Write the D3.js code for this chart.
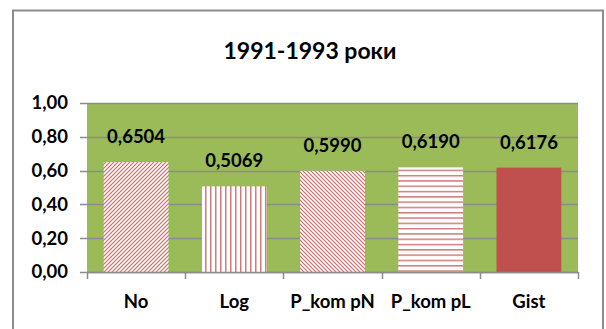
<!DOCTYPE html>
<html>
<head>
<meta charset="utf-8">
<script src="https://cdn.jsdelivr.net/npm/d3@7"></script>
<style>
  body { margin: 0; background: #fff; }
  svg text { font-family: Lato, "Open Sans", sans-serif; font-weight: bold; fill: #000; }
</style>
</head>
<body>
<svg width="606" height="329"></svg>
<script>
// data
var categories = ["No", "Log", "P_kom pN", "P_kom pL", "Gist"];
var values = [0.6504, 0.5069, 0.5990, 0.6190, 0.6176];
var fills = ["diagUp", "vert", "diagDown", "horiz", "solid"];
var yTicks = [0, 0.2, 0.4, 0.6, 0.8, 1.0];
var title = "1991-1993 роки";

var svg = d3.select("svg"),
  width = +svg.attr("width"),
  height = +svg.attr("height");

var red = "#C0504D";
var green = "#9BBB59";
var grey = "#8C8C8C";

var uk = d3.formatLocale({decimal: ",", thousands: " ", grouping: [3], currency: ["", ""]});
var fmt2 = uk.format(".2f"), fmt4 = uk.format(".4f");

// patterns
var defs = svg.append("defs");
function pat(id, w, h, draw) {
  var p = defs.append("pattern").attr("id", id)
    .attr("patternUnits", "userSpaceOnUse")
    .attr("width", w).attr("height", h);
  p.append("rect").attr("width", w).attr("height", h).attr("fill", "#fff");
  draw(p);
}
var s = 4;
// "/" lines
pat("diagUp", s, s, function(p) {
  p.append("path").attr("d", "M0," + s + "L" + s + ",0M-1,1L1,-1M" + (s - 1) + "," + (s + 1) + "L" + (s + 1) + "," + (s - 1))
    .attr("stroke", red).attr("stroke-width", 1.2).attr("opacity", 0.85);
});
// "\" lines
pat("diagDown", s, s, function(p) {
  p.append("path").attr("d", "M0,0L" + s + "," + s + "M-1," + (s - 1) + "L1," + (s + 1) + "M" + (s - 1) + ",-1L" + (s + 1) + ",1")
    .attr("stroke", red).attr("stroke-width", 1.2).attr("opacity", 0.85);
});
pat("vert", 5, 5, function(p) {
  p.append("rect").attr("width", 1.5).attr("height", 5).attr("fill", red).attr("opacity", 0.75);
});
pat("horiz", 5, 5.3, function(p) {
  p.append("rect").attr("width", 5).attr("height", 1.5).attr("fill", red).attr("opacity", 0.75);
});

// outer frame
svg.append("rect").attr("x", 13).attr("y", 10.5).attr("width", 590).attr("height", 340)
  .attr("fill", "#fff").attr("stroke", grey).attr("stroke-width", 2);

var x = d3.scaleBand().domain(categories).range([87, 578]).paddingInner(0.34).paddingOuter(0.17);
var y = d3.scaleLinear().domain([0, 1]).range([272, 103]);

// plot area
svg.append("rect").attr("x", 87).attr("y", y(1)).attr("width", 578 - 87).attr("height", y(0) - y(1))
  .attr("fill", green);

// grid
svg.append("g").selectAll("line").data(yTicks).enter().append("line")
  .attr("x1", 80).attr("x2", 578)
  .attr("y1", function(d) { return Math.round(y(d)) + 0.5; })
  .attr("y2", function(d) { return Math.round(y(d)) + 0.5; })
  .attr("stroke", grey).attr("stroke-width", 1.5);

// y labels
svg.append("g").selectAll("text").data(yTicks).enter().append("text")
  .attr("x", 68).attr("y", function(d) { return y(d); })
  .attr("dy", "0.35em").attr("text-anchor", "end")
  .style("font-size", "18.5px")
  .text(function(d) { return fmt2(d); });

// bars
svg.append("g").selectAll("rect").data(values).enter().append("rect")
  .attr("x", function(d, i) { return x(categories[i]); })
  .attr("width", x.bandwidth())
  .attr("y", function(d) { return y(d); })
  .attr("height", function(d) { return y(0) - y(d); })
  .attr("fill", function(d, i) { return fills[i] == "solid" ? red : "url(#" + fills[i] + ")"; });

// value labels
svg.append("g").selectAll("text").data(values).enter().append("text")
  .attr("x", function(d, i) { return x(categories[i]) + x.bandwidth() / 2; })
  .attr("y", function(d) { return y(d) - 19; })
  .attr("text-anchor", "middle")
  .style("font-size", "18.5px")
  .text(function(d) { return fmt4(d); });

// x axis
svg.append("line").attr("x1", 87).attr("x2", 578).attr("y1", 272.5).attr("y2", 272.5)
  .attr("stroke", grey).attr("stroke-width", 1.5);
var bounds = categories.map(function(c) { return x(c) - x.step() * x.paddingInner() / 2; });
bounds.push(578);
bounds[0] = 87;
svg.append("g").selectAll("line").data(bounds).enter().append("line")
  .attr("x1", function(d) { return Math.round(d) + 0.5; })
  .attr("x2", function(d) { return Math.round(d) + 0.5; })
  .attr("y1", 272).attr("y2", 279)
  .attr("stroke", grey).attr("stroke-width", 1.5);

svg.append("g").selectAll("text").data(categories).enter().append("text")
  .attr("x", function(d) { return x(d) + x.bandwidth() / 2; })
  .attr("y", 308)
  .attr("text-anchor", "middle")
  .style("font-size", "18.5px")
  .text(function(d) { return d; });

// title
svg.append("text").attr("x", 310).attr("y", 59).attr("text-anchor", "middle")
  .style("font-size", "23px").text(title);
</script>
</body>
</html>
